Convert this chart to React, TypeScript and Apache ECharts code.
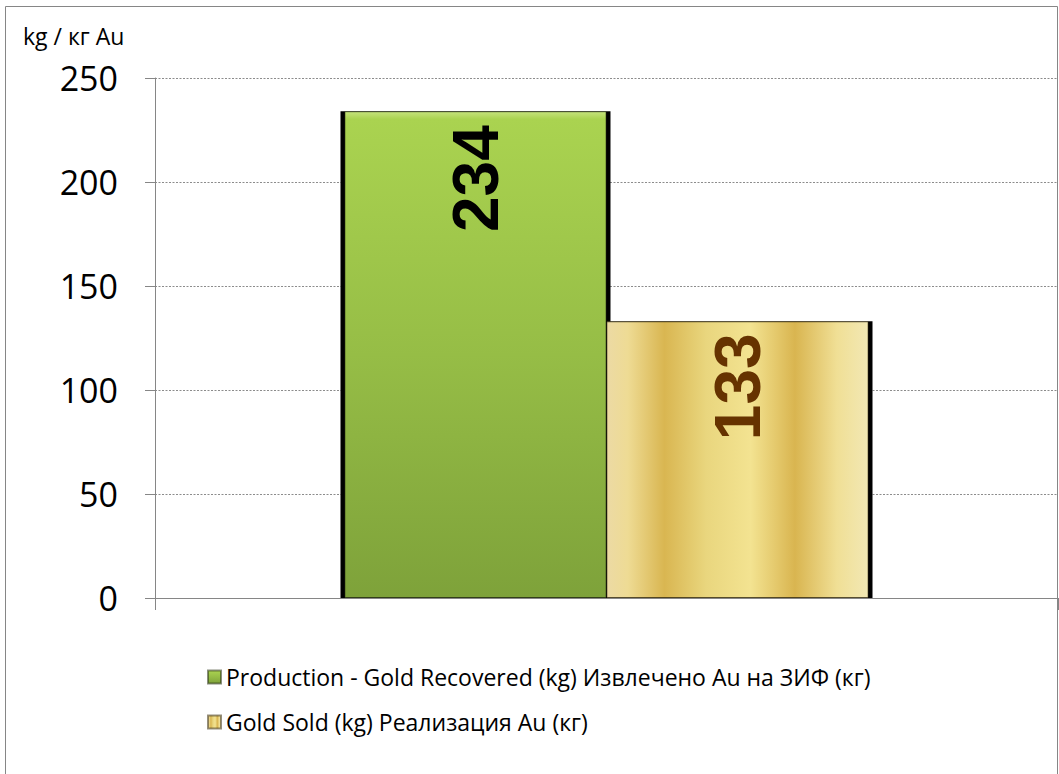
import React, { useEffect, useRef } from "react";
import * as echarts from "echarts";

const categories: string[] = [""];
const productionName = "Production - Gold Recovered (kg) Извлечено Au на ЗИФ (кг)";
const soldName = "Gold Sold (kg) Реализация Au (кг)";
const productionValues: number[] = [234];
const soldValues: number[] = [133];
const yMin = 0;
const yMax = 250;
const yInterval = 50;
const yAxisTitle = "kg / кг Au";

export default function App() {
  const ref = useRef<HTMLDivElement | null>(null);
  useEffect(() => {
    document.body.style.margin = "0";
    if (!ref.current) return;
    const chart = echarts.init(ref.current, null, { renderer: "svg" });
    const greenGrad = new echarts.graphic.LinearGradient(0, 0, 0, 1, [
      { offset: 0, color: "#c6e37c" },
      { offset: 0.015, color: "#aad350" },
      { offset: 0.5, color: "#96bd46" },
      { offset: 1, color: "#7ea23a" },
    ]);
    const goldGrad = new echarts.graphic.LinearGradient(0, 0, 1, 0, [
      { offset: 0, color: "#ecdaa4" },
      { offset: 0.08, color: "#eedb94" },
      { offset: 0.22, color: "#d9b651" },
      { offset: 0.38, color: "#e9d67e" },
      { offset: 0.55, color: "#f3e391" },
      { offset: 0.72, color: "#d9b550" },
      { offset: 0.88, color: "#f0df95" },
      { offset: 1, color: "#f2e8b4" },
    ]);
    const font = "'Open Sans', 'Noto Sans', sans-serif";
    const shadowBar = {
      type: "bar",
      xAxisIndex: 1,
      barWidth: 270,
      barGap: "-2.96%",
      silent: true,
      legendHoverLink: false,
      itemStyle: { color: "#000" },
      z: 1,
    };
    chart.setOption({
      animation: false,
      grid: { left: 155, right: 1, top: 78, bottom: 176, containLabel: false },
      legend: {
        orient: "vertical",
        left: 207,
        top: 665,
        padding: 0,
        icon: "rect",
        itemWidth: 13,
        itemHeight: 13,
        itemGap: 21,
        data: [productionName, soldName],
        textStyle: { fontFamily: font, fontSize: 23, color: "#000", lineHeight: 24 },
      },
      graphic: [
        {
          type: "rect",
          shape: { x: 5.5, y: 6.5, width: 1052, height: 800 },
          style: { fill: "none", stroke: "#868686", lineWidth: 1 },
          silent: true,
          z: -1,
        },
        {
          type: "text",
          left: 23,
          top: 24,
          style: { text: yAxisTitle, fontFamily: font, fontSize: 23, fill: "#000" },
        },
      ],
      xAxis: [
        {
          type: "category",
          data: categories,
          axisLine: { lineStyle: { color: "#868686", width: 1 } },
          axisTick: { show: true, length: 12, lineStyle: { color: "#868686" } },
          axisLabel: { show: false },
          splitLine: { show: false },
        },
        {
          type: "category",
          data: categories,
          show: false,
        },
      ],
      yAxis: {
        type: "value",
        min: yMin,
        max: yMax,
        interval: yInterval,
        axisLine: { show: true, lineStyle: { color: "#868686", width: 1 } },
        axisTick: { show: true, length: 10, lineStyle: { color: "#868686" } },
        axisLabel: { margin: 37, fontFamily: font, fontSize: 34, color: "#000" },
        splitLine: { show: true, lineStyle: { color: "#8c8c8c", width: 1, type: [2, 1.5] } },
      },
      series: [
        { ...shadowBar, name: "shadow1", data: productionValues },
        { ...shadowBar, name: "shadow2", data: soldValues },
        {
          type: "bar",
          name: productionName,
          xAxisIndex: 0,
          barWidth: 262,
          barGap: "0%",
          z: 3,
          data: productionValues,
          itemStyle: { color: greenGrad, borderColor: "rgba(40,50,20,0.55)", borderWidth: 1 },
          label: {
            show: true,
            position: "insideTop",
            distance: 14,
            rotate: 90,
            align: "right",
            verticalAlign: "middle",
            fontFamily: "'Liberation Sans', Arial, sans-serif",
            fontWeight: "bold",
            fontSize: 64,
            color: "#000",
          },
        },
        {
          type: "bar",
          name: soldName,
          xAxisIndex: 0,
          barWidth: 262,
          barGap: "0%",
          z: 3,
          data: soldValues,
          itemStyle: { color: goldGrad, borderColor: "rgba(60,50,20,0.55)", borderWidth: 1 },
          label: {
            show: true,
            position: "insideTop",
            distance: 12,
            rotate: 90,
            align: "right",
            verticalAlign: "middle",
            fontFamily: "'Liberation Sans', Arial, sans-serif",
            fontWeight: "bold",
            fontSize: 64,
            color: "#663300",
          },
        },
      ],
    });
    return () => chart.dispose();
  }, []);
  return <div ref={ref} style={{ width: 1059, height: 774 }} />;
}
